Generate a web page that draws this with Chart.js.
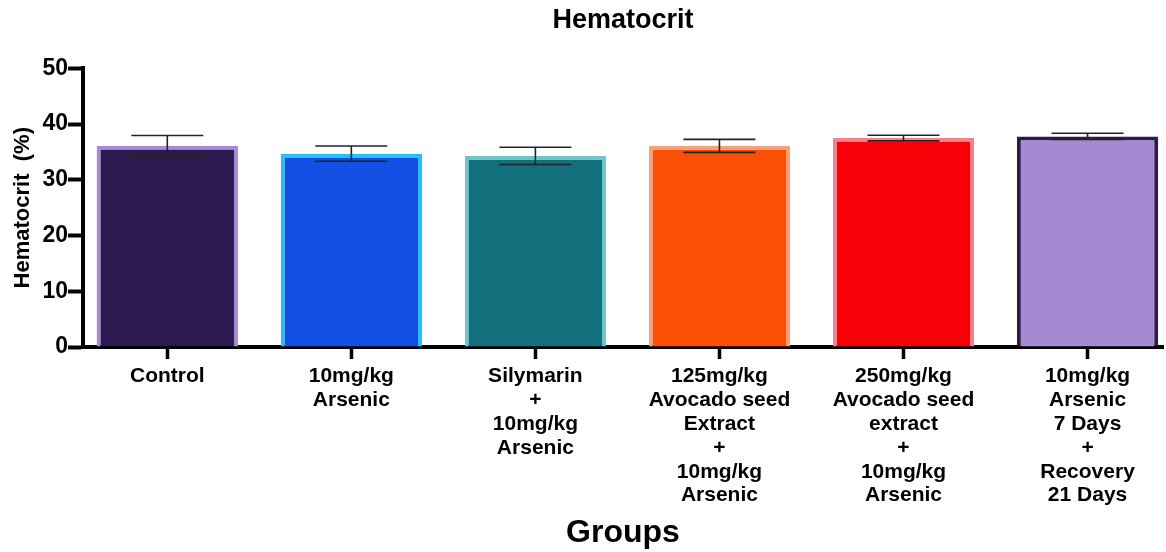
<!DOCTYPE html>
<html>
<head>
<meta charset="utf-8">
<title>Hematocrit</title>
<script src="https://cdn.jsdelivr.net/npm/chart.js@4/dist/chart.umd.min.js"></script>
<style>
  body { margin: 0; background: #fff; }
  #wrap { width: 1166px; height: 552px; }
</style>
</head>
<body>
<div id="wrap"><canvas id="hctChart" width="1166" height="552"></canvas></div>
<script>
// Gruppen (mehrzeilige Beschriftung wie im Original)
const groups = [
  ["Control"],
  ["10mg/kg", "Arsenic"],
  ["Silymarin", "+", "10mg/kg", "Arsenic"],
  ["125mg/kg", "Avocado seed", "Extract", "+", "10mg/kg", "Arsenic"],
  ["250mg/kg", "Avocado seed", "extract", "+", "10mg/kg", "Arsenic"],
  ["10mg/kg", "Arsenic", "7 Days", "+", "Recovery", "21 Days"],
];

// Mittelwerte und Standardabweichungen (%)
const hctMean = [36.1, 34.7, 34.3, 36.1, 37.5, 37.8];
const hctSd = [1.85, 1.37, 1.55, 1.17, 0.51, 0.57];

const yTicks = [0, 10, 20, 30, 40, 50];

const fillColors = ["#2D1850", "#1450E6", "#11707C", "#FA5005", "#FA0008", "#A48AD2"];
const edgeColors = ["#A48BD2", "#28C0F8", "#6EC6CC", "#F8A07C", "#F98088", "#2D1850"];

const FONT = "'Liberation Sans', Arial, sans-serif";
Chart.defaults.color = "#000";
Chart.defaults.font.family = FONT;

// Fehlerbalken über die Skalen zeichnen
const errorBars = {
  id: "errorBars",
  afterDatasetsDraw(chart) {
    const { ctx, scales: { x, y } } = chart;
    const cap = 36;
    ctx.save();
    ctx.strokeStyle = "#222";
    ctx.lineWidth = 1.6;
    hctMean.forEach((m, i) => {
      const px = x.getPixelForValue(i);
      const top = y.getPixelForValue(m + hctSd[i]);
      const bot = y.getPixelForValue(m - hctSd[i]);
      ctx.beginPath();
      ctx.moveTo(px, top);
      ctx.lineTo(px, bot);
      ctx.moveTo(px - cap, top);
      ctx.lineTo(px + cap, top);
      ctx.moveTo(px - cap, bot);
      ctx.lineTo(px + cap, bot);
      ctx.stroke();
    });
    ctx.restore();
  },
};

new Chart(document.getElementById("hctChart"), {
  type: "bar",
  data: {
    datasets: [{
      data: hctMean.map((v, i) => ({ x: i, y: v })),
      backgroundColor: fillColors,
      borderColor: edgeColors,
      borderWidth: 4,
      borderSkipped: "bottom",
      categoryPercentage: 1,
      barPercentage: 0.768,
    }],
  },
  options: {
    responsive: false,
    animation: false,
    devicePixelRatio: 1,
    layout: { padding: { top: 0, left: 0, right: 3, bottom: 0 } },
    plugins: {
      legend: { display: false },
      tooltip: { enabled: false },
      title: {
        display: true,
        fullSize: false,
        text: "Hematocrit",
        font: { size: 27, weight: "bold" },
        padding: { top: 4, bottom: 32 },
      },
    },
    scales: {
      x: {
        type: "linear",
        min: -0.458,
        max: 5.41,
        offset: false,
        afterBuildTicks: (scale) => { scale.ticks = groups.map((_, i) => ({ value: i })); },
        afterFit: (scale) => { scale.height = 205; },
        ticks: {
          callback: (v) => groups[v],
          font: { size: 21, weight: "bold", lineHeight: 1.14 },
          padding: 5,
          maxRotation: 0,
          autoSkip: false,
        },
        grid: { offset: false, drawOnChartArea: false, color: "#000", tickLength: 12, tickWidth: 3.5 },
        border: { color: "#000", width: 4 },
        title: {
          display: true,
          text: "Groups",
          font: { size: 32, weight: "bold" },
          padding: { top: 0, bottom: 0 },
        },
      },
      y: {
        min: 0,
        max: 50,
        afterBuildTicks: (scale) => { scale.ticks = yTicks.map((v) => ({ value: v })); },
        afterFit: (scale) => { scale.width = 83; },
        ticks: { font: { size: 23, weight: "bold" }, padding: 0 },
        grid: { drawOnChartArea: false, color: "#000", tickLength: 15, tickWidth: 4 },
        border: { color: "#000", width: 4 },
        title: {
          display: true,
          text: "Hematocrit  (%)",
          font: { size: 22, weight: "bold" },
          padding: { top: 10 },
        },
      },
    },
  },
  plugins: [errorBars],
});
</script>
</body>
</html>
